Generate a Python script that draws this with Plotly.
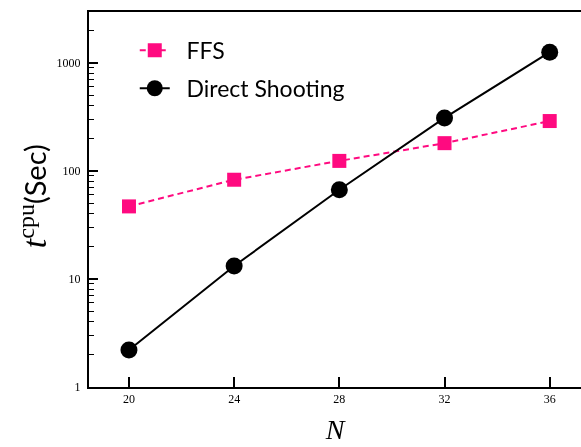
import plotly.graph_objects as go

N = [20, 24, 28, 32, 36]
ffs = [47, 83, 124, 181, 290]
direct = [2.2, 13.2, 67, 310, 1260]
x_ticks = [20, 24, 28, 32, 36]
y_ticks = [1, 10, 100, 1000]
y_minor = [m * 10 ** k for k in range(0, 4) for m in range(2, 10) if m * 10 ** k < 3000]

fig = go.Figure()
fig.add_trace(go.Scatter(
    x=N, y=ffs, name="\u00a0\u00a0FFS", mode="lines+markers", legendgroup="a",
    line=dict(color="#ff0a80", width=2, dash="6px,4px"),
    marker=dict(symbol="square", size=14, color="#ff0a80"),
))
fig.add_trace(go.Scatter(
    x=N, y=direct, name="\u00a0\u00a0Direct Shooting", mode="lines+markers", legendgroup="b",
    line=dict(color="black", width=2),
    marker=dict(symbol="circle", size=17, color="black"),
))
# invisible trace anchoring the overlay axis that carries the short minor ticks
fig.add_trace(go.Scatter(
    x=N, y=ffs, yaxis="y2", mode="markers", opacity=0, showlegend=False, hoverinfo="skip",
))

fig.update_layout(
    width=581, height=447,
    margin=dict(l=89, r=0, t=12, b=60),
    plot_bgcolor="white", paper_bgcolor="white",
    showlegend=True,
    legend=dict(x=0.093, y=0.955, xanchor="left", yanchor="top",
                font=dict(family="Lato", size=23, color="black"),
                bgcolor="rgba(0,0,0,0)", tracegroupgap=5),
    xaxis=dict(
        range=[18.48, 37.19], tickvals=x_ticks, ticktext=[str(v) for v in x_ticks],
        ticks="inside", ticklen=10, tickwidth=1.5, tickcolor="black",
        showline=True, linecolor="black", linewidth=2, mirror=True,
        showgrid=False, zeroline=False,
        tickfont=dict(family="Liberation Serif", size=12, color="black"),
        title=dict(text="<i>N</i>", font=dict(family="Liberation Serif", size=28, color="black"), standoff=14),
    ),
    yaxis=dict(
        type="log", range=[0, 3.472], tickvals=y_ticks, ticktext=[str(v) for v in y_ticks],
        ticks="inside", ticklen=9, tickwidth=1.5, tickcolor="black",
        showline=True, linecolor="black", linewidth=2,
        showgrid=False, zeroline=False, ticklabelstandoff=4,
        tickfont=dict(family="Liberation Serif", size=12, color="black"),
    ),
    yaxis2=dict(
        type="log", range=[0, 3.472], overlaying="y", side="left",
        tickvals=y_minor, ticks="inside", ticklen=5, tickwidth=1, tickcolor="black",
        showticklabels=False, showgrid=False, zeroline=False, showline=False,
    ),
)

fig.add_annotation(
    xref="paper", yref="paper", x=-0.115, y=0.51, xanchor="center", yanchor="middle",
    textangle=-90, showarrow=False,
    text="<span style='font-family:Liberation Serif;font-style:italic;font-size:34px'>t</span>"
         "<sup><span style='font-family:Liberation Serif;font-size:24px'>cpu</span></sup>"
         "<span style='font-family:Lato;font-size:29px'>(Sec)</span>",
    font=dict(family="Lato", size=29, color="black"),
)

fig.write_html("out.html")
